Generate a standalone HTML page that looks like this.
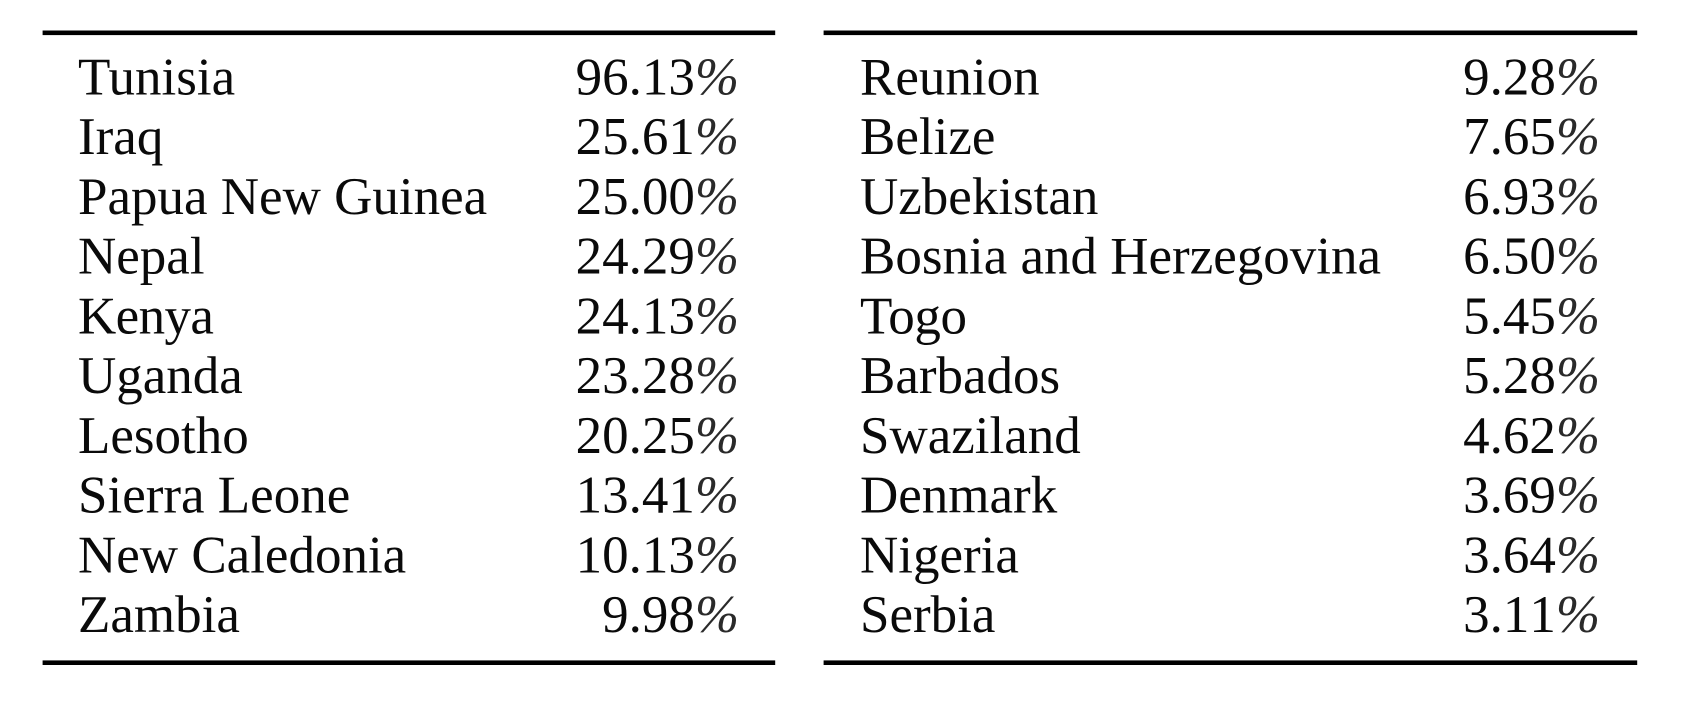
<!DOCTYPE html>
<html lang="en">
<head>
<meta charset="utf-8">
<title>Country percentages table</title>
<style>
html,body{margin:0;padding:0;background:#fff;width:1684px;height:702px;overflow:hidden}
svg{display:block}
text{font-family:"Liberation Serif","Times New Roman",serif;font-size:53px;fill:#0a0a0a}
.v{text-anchor:end;font-kerning:none}
.p{font-style:italic;fill:#2a2a2a}
.k{letter-spacing:-0.6px}
.g{letter-spacing:-0.4px}
</style>
</head>
<body>
<svg width="1684" height="702" viewBox="0 0 1684 702" xmlns="http://www.w3.org/2000/svg">
<rect x="0" y="0" width="1684" height="702" fill="#fff"/>
<rect x="42.6" y="30.5" width="732.6" height="4.6" fill="#000"/>
<rect x="823.6" y="30.5" width="813.6" height="4.6" fill="#000"/>
<rect x="42.6" y="660.4" width="732.6" height="4.6" fill="#000"/>
<rect x="823.6" y="660.4" width="813.6" height="4.6" fill="#000"/>

<text x="78" y="94.3">Tunisia</text>
<text class="v" x="739" y="94.3">96.13<tspan class="p">%</tspan></text>
<text x="78" y="154">Iraq</text>
<text class="v" x="739" y="154">25.61<tspan class="p">%</tspan></text>
<text x="78" y="213.8">Papua New Guinea</text>
<text class="v" x="739" y="213.8">25.00<tspan class="p">%</tspan></text>
<text x="78" y="273.5">Nepal</text>
<text class="v" x="739" y="273.5">24.29<tspan class="p">%</tspan></text>
<text class="k" x="78" y="333.3">Kenya</text>
<text class="v" x="739" y="333.3">24.13<tspan class="p">%</tspan></text>
<text x="78" y="393">Uganda</text>
<text class="v" x="739" y="393">23.28<tspan class="p">%</tspan></text>
<text x="78" y="452.8">Lesotho</text>
<text class="v" x="739" y="452.8">20.25<tspan class="p">%</tspan></text>
<text x="78" y="512.5">Sierra Leone</text>
<text class="v" x="739" y="512.5">13.41<tspan class="p">%</tspan></text>
<text x="78" y="572.3">New Caledonia</text>
<text class="v" x="739" y="572.3">10.13<tspan class="p">%</tspan></text>
<text x="78" y="632">Zambia</text>
<text class="v" x="739" y="632">9.98<tspan class="p">%</tspan></text>

<text x="860" y="94.3">Reunion</text>
<text class="v" x="1600" y="94.3">9.28<tspan class="p">%</tspan></text>
<text x="860" y="154">Belize</text>
<text class="v" x="1600" y="154">7.65<tspan class="p">%</tspan></text>
<text x="860" y="213.8">Uzbekistan</text>
<text class="v" x="1600" y="213.8">6.93<tspan class="p">%</tspan></text>
<text x="860" y="273.5">Bosnia and Herzegovina</text>
<text class="v" x="1600" y="273.5">6.50<tspan class="p">%</tspan></text>
<text class="g" x="860" y="333.3">Togo</text>
<text class="v" x="1600" y="333.3">5.45<tspan class="p">%</tspan></text>
<text x="860" y="393">Barbados</text>
<text class="v" x="1600" y="393">5.28<tspan class="p">%</tspan></text>
<text x="860" y="452.8">Swaziland</text>
<text class="v" x="1600" y="452.8">4.62<tspan class="p">%</tspan></text>
<text x="860" y="512.5">Denmark</text>
<text class="v" x="1600" y="512.5">3.69<tspan class="p">%</tspan></text>
<text x="860" y="572.3">Nigeria</text>
<text class="v" x="1600" y="572.3">3.64<tspan class="p">%</tspan></text>
<text x="860" y="632">Serbia</text>
<text class="v" x="1600" y="632">3.11<tspan class="p">%</tspan></text>
</svg>
</body>
</html>
